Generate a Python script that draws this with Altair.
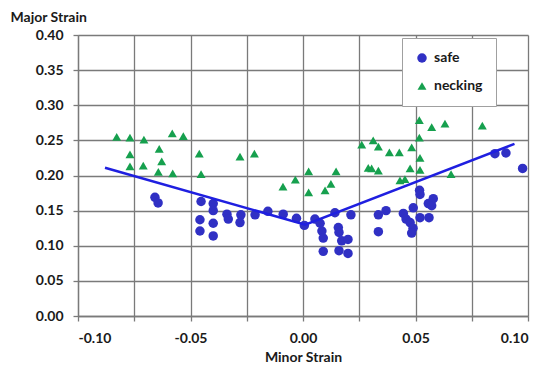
import altair as alt
import pandas as pd

# --- data ---
necking_x = [-0.0828, -0.0769, -0.0707, -0.0581, -0.0532,
             -0.0769, -0.0639, -0.0461,
             -0.0769, -0.0710, -0.0628, -0.0643, -0.0579, -0.0453,
             -0.0280, -0.0216,
             -0.0089, -0.0034, 0.0025, 0.0025, 0.0098, 0.0124, 0.0147,
             0.0261, 0.0312, 0.0335, 0.0384, 0.0428, 0.0483, 0.0517, 0.0520,
             0.0290, 0.0305, 0.0335, 0.0476, 0.0520, 0.0431, 0.0453, 0.0658,
             0.0517, 0.0572, 0.0631, 0.0797]
necking_y = [0.255, 0.254, 0.251, 0.260, 0.256,
             0.230, 0.238, 0.231,
             0.213, 0.214, 0.220, 0.205, 0.203, 0.202,
             0.227, 0.231,
             0.184, 0.194, 0.206, 0.176, 0.179, 0.188, 0.206,
             0.244, 0.250, 0.241, 0.233, 0.233, 0.240, 0.254, 0.225,
             0.211, 0.210, 0.207, 0.210, 0.208, 0.193, 0.195, 0.202,
             0.279, 0.269, 0.274, 0.271]

safe_x = [-0.0658, -0.0644, -0.0453, -0.0399, -0.0399, -0.0458, -0.0399, -0.0458, -0.0399,
          -0.0338, -0.0332, -0.0276, -0.0280, -0.0213, -0.0156, -0.0088, -0.0029, 0.0006,
          0.0053, 0.0076, 0.0084, 0.0090, 0.0090, 0.0142, 0.0157, 0.0160, 0.0172, 0.0200,
          0.0160, 0.0200, 0.0213,
          0.0335, 0.0369, 0.0335, 0.0446, 0.0490, 0.0458, 0.0476, 0.0489, 0.0483, 0.0520,
          0.0560, 0.0518, 0.0520, 0.0557, 0.0579, 0.0572, 0.0853, 0.0902, 0.0976]
safe_y = [0.169, 0.161, 0.163, 0.160, 0.150, 0.137, 0.132, 0.121, 0.114,
          0.145, 0.138, 0.144, 0.133, 0.144, 0.149, 0.145, 0.139, 0.129,
          0.138, 0.132, 0.121, 0.111, 0.092, 0.147, 0.126, 0.119, 0.107, 0.109,
          0.093, 0.089, 0.144,
          0.144, 0.150, 0.120, 0.146, 0.154, 0.138, 0.133, 0.125, 0.118, 0.140,
          0.140, 0.179, 0.173, 0.160, 0.167, 0.157, 0.231, 0.232, 0.210]

fld_x = [-0.088, 0.001, 0.094]
fld_y = [0.211, 0.130, 0.245]

x_ticks = [-0.1, -0.075, -0.05, -0.025, 0.0, 0.025, 0.05, 0.075, 0.1]
y_ticks = [0.0, 0.05, 0.1, 0.15, 0.2, 0.25, 0.3, 0.35, 0.4]

pts = pd.DataFrame({
    "x": safe_x + necking_x,
    "y": safe_y + necking_y,
    "type": ["safe"] * len(safe_x) + ["necking"] * len(necking_x),
})
line_df = pd.DataFrame({"x": fld_x, "y": fld_y})

FONT = "Lato"
GRID = "#7a7a7a"

x_axis = alt.Axis(values=x_ticks, title="Minor Strain", grid=True,
                  labelExpr="abs(round(datum.value*1000)) % 50 == 0 ? replace(format(datum.value, '.2f'), '\u2212', '-') : ''",
                  tickSize=5, labelPadding=10, titlePadding=5, labelOverlap=False)
y_axis = alt.Axis(values=y_ticks, title="Major Strain", grid=True,
                  labelExpr="format(datum.value, '.2f')",
                  tickSize=5, labelPadding=10, labelOverlap=False,
                  titleAngle=0, titleAlign="left", titleBaseline="middle",
                  titleX=-68, titleY=-18)
x_scale = alt.Scale(domain=[-0.1, 0.1], nice=False)
y_scale = alt.Scale(domain=[0, 0.4], nice=False)

points = alt.Chart(pts).mark_point(filled=True, opacity=1).encode(
    x=alt.X("x:Q", scale=x_scale, axis=x_axis),
    y=alt.Y("y:Q", scale=y_scale, axis=y_axis),
    shape=alt.Shape("type:N", scale=alt.Scale(domain=["safe", "necking"],
                                              range=["circle", "triangle-up"]),
                    legend=alt.Legend(title=None)),
    color=alt.Color("type:N", scale=alt.Scale(domain=["safe", "necking"],
                                              range=["#3030c4", "#16a04e"]),
                    legend=alt.Legend(title=None)),
    size=alt.Size("type:N", scale=alt.Scale(domain=["safe", "necking"], range=[90, 80]),
                  legend=None),
)

line = alt.Chart(line_df).mark_line(color="#1f1fe0", strokeWidth=2.5).encode(
    x=alt.X("x:Q", scale=x_scale, axis=x_axis),
    y=alt.Y("y:Q", scale=y_scale, axis=y_axis),
)

chart = alt.layer(points, line).properties(
    width=450, height=281,
    autosize=alt.AutoSizeParams(type="none"),
    padding={"left": 70, "top": 27, "right": 12, "bottom": 51},
).configure_view(
    stroke=None
).configure_axis(
    gridColor=GRID, gridOpacity=1, gridWidth=1.3,
    domainColor=GRID, domainWidth=1.3, tickColor=GRID, tickWidth=1.3,
    labelFont=FONT, labelFontSize=14, labelFontWeight="bold", labelColor="#1a1a1a",
    titleFont=FONT, titleFontSize=14, titleFontWeight="bold", titleColor="#1a1a1a",
).configure_legend(
    orient="none", legendX=324, legendY=3,
    fillColor="white", strokeColor="#a0a0a0", padding=13,
    labelFont=FONT, labelFontSize=14, labelFontWeight="bold", labelColor="#1a1a1a",
    symbolSize=50, rowPadding=14, labelOffset=5, cornerRadius=0,
    symbolStrokeWidth=0,
)

chart.save("out.html", embed_options={"renderer": "svg", "actions": False})
